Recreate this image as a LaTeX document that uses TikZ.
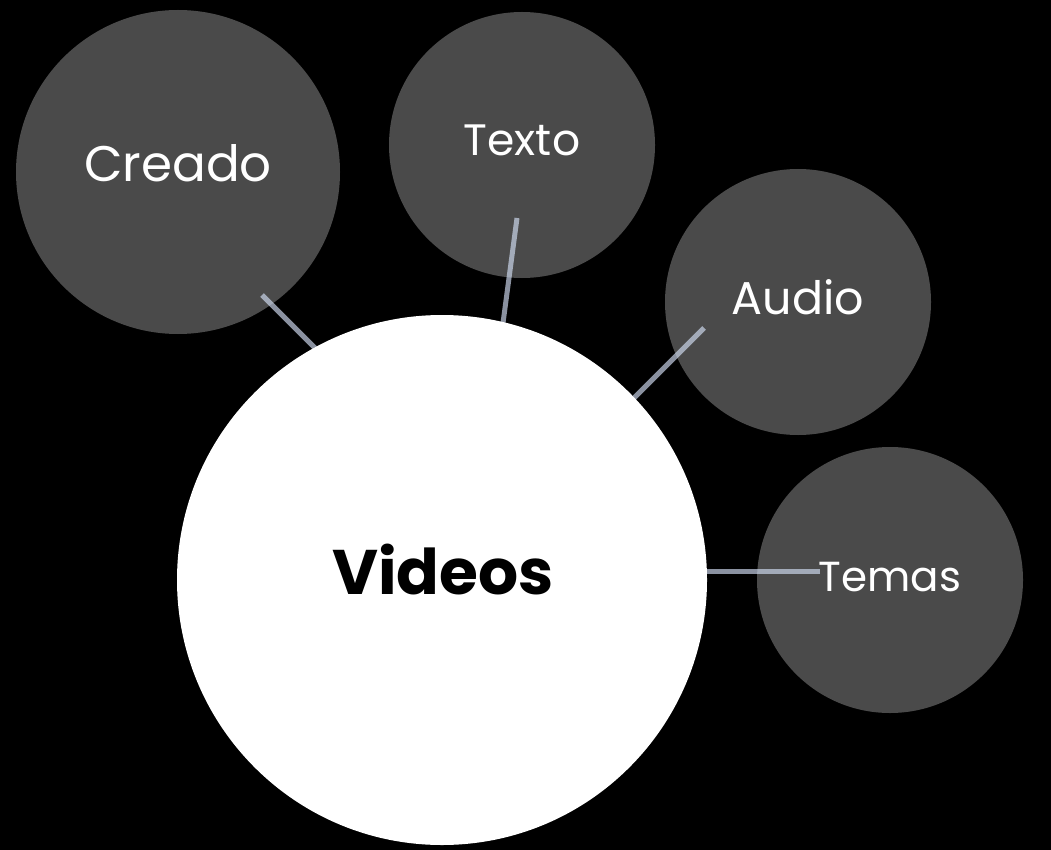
\documentclass[tikz,border=0pt]{standalone}
\usepackage{fontspec}
\setmainfont{Poppins}
\begin{document}
\begin{tikzpicture}[x=1pt,y=-1pt,
  topic/.style={circle,fill=topicgray,inner sep=0pt},
  hub/.style={circle,fill=white,inner sep=0pt},
  label/.style={text=white,inner sep=0pt},
  link/.style={draw=linkblue,line width=5pt,opacity=0.65}]
\definecolor{topicgray}{HTML}{4A4A4A}
\definecolor{linkblue}{HTML}{D4E0F6}
\fill[black] (0,0) rectangle (1051,850);
\useasboundingbox (0,0) rectangle (1051,850);
% outer topics
\node[topic,minimum size=324pt] (creado) at (178,172) {};
\node[topic,minimum size=266pt] (texto) at (522,145) {};
\node[topic,minimum size=266pt] (audio) at (798,302) {};
\node[topic,minimum size=266pt] (temas) at (890,580) {};
% link ends: one inside each topic, one hidden under the hub
\coordinate (cA) at (262,295);
\coordinate (cB) at (345,378);
\coordinate (tA) at (517,218);
\coordinate (tB) at (499,353);
\coordinate (aA) at (704,328);
\coordinate (aB) at (605,427);
\coordinate (mA) at (820,571);
\coordinate (mB) at (680,571);
\draw[link] (cA) -- (cB);
\draw[link] (tA) -- (tB);
\draw[link] (aA) -- (aB);
\draw[link] (mA) -- (mB);
% centre hub
\node[hub,minimum size=530pt] (videos) at (442,580) {};
\node[text=black,font=\fontsize{63}{70}\selectfont\bfseries] (videosl) at (443,570) {Videos};
\node[label,font=\fontsize{50}{58}\selectfont] (creadol) at (178,163) {Creado};
\node[label,font=\fontsize{44}{52}\selectfont] (textol) at (522,140) {Texto};
\node[label,font=\fontsize{46}{54}\selectfont] (audiol) at (798,297) {Audio};
\node[label,font=\fontsize{42}{50}\selectfont] (temasl) at (890,577) {Temas};
\end{tikzpicture}
\end{document}
